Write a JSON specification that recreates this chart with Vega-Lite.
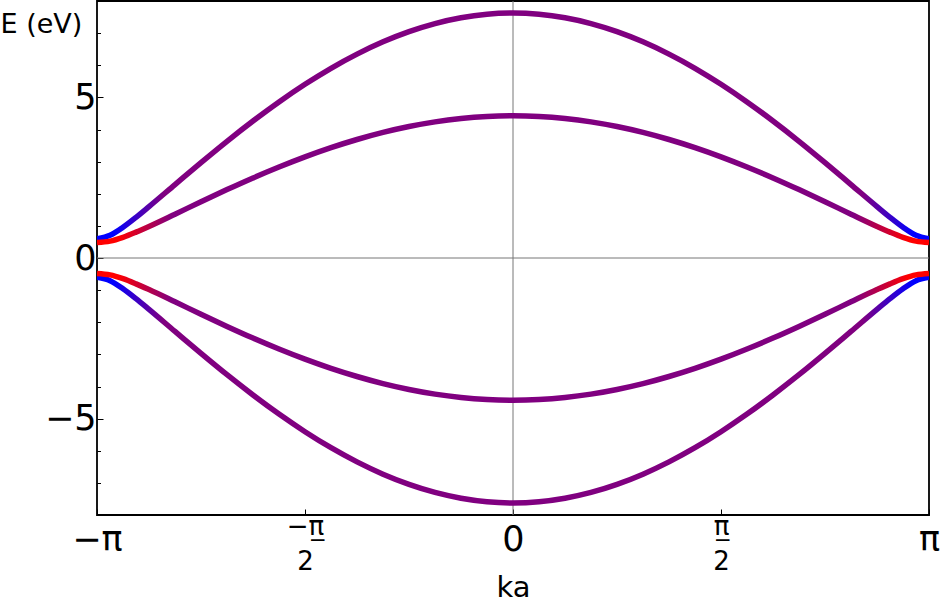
{
  "$schema": "https://vega.github.io/schema/vega-lite/v6.json",
  "width": 832,
  "height": 514,
  "autosize": {"type": "none"},
  "padding": {"left": 97, "top": 1, "right": 15, "bottom": 87},
  "background": "white",
  "config": {"view": {"stroke": "black", "strokeWidth": 1.8}, "font": "DejaVu Sans"},
  "datasets": {
    "bands": [
      {"k":-1,"b":"o+","E":0.6},{"k":-0.96875,"b":"o+","E":0.706},{"k":-0.9375,"b":"o+","E":0.957},{"k":-0.90625,"b":"o+","E":1.266},{"k":-0.875,"b":"o+","E":1.6},{"k":-0.8125,"b":"o+","E":2.286},{"k":-0.75,"b":"o+","E":2.969},{"k":-0.6875,"b":"o+","E":3.633},{"k":-0.625,"b":"o+","E":4.264},{"k":-0.5625,"b":"o+","E":4.858},{"k":-0.5,"b":"o+","E":5.407},{"k":-0.4375,"b":"o+","E":5.906},{"k":-0.375,"b":"o+","E":6.347},{"k":-0.3125,"b":"o+","E":6.73},{"k":-0.25,"b":"o+","E":7.047},{"k":-0.1875,"b":"o+","E":7.298},{"k":-0.125,"b":"o+","E":7.478},{"k":-0.0625,"b":"o+","E":7.587},{"k":0,"b":"o+","E":7.624},{"k":0.0625,"b":"o+","E":7.587},{"k":0.125,"b":"o+","E":7.478},{"k":0.1875,"b":"o+","E":7.298},{"k":0.25,"b":"o+","E":7.047},{"k":0.3125,"b":"o+","E":6.73},{"k":0.375,"b":"o+","E":6.347},{"k":0.4375,"b":"o+","E":5.906},{"k":0.5,"b":"o+","E":5.407},{"k":0.5625,"b":"o+","E":4.858},{"k":0.625,"b":"o+","E":4.264},{"k":0.6875,"b":"o+","E":3.633},{"k":0.75,"b":"o+","E":2.969},{"k":0.8125,"b":"o+","E":2.286},{"k":0.875,"b":"o+","E":1.6},{"k":0.90625,"b":"o+","E":1.266},{"k":0.9375,"b":"o+","E":0.957},{"k":0.96875,"b":"o+","E":0.706},{"k":1,"b":"o+","E":0.6},
      {"k":-1,"b":"o-","E":-0.6},{"k":-0.96875,"b":"o-","E":-0.706},{"k":-0.9375,"b":"o-","E":-0.957},{"k":-0.90625,"b":"o-","E":-1.266},{"k":-0.875,"b":"o-","E":-1.6},{"k":-0.8125,"b":"o-","E":-2.286},{"k":-0.75,"b":"o-","E":-2.969},{"k":-0.6875,"b":"o-","E":-3.633},{"k":-0.625,"b":"o-","E":-4.264},{"k":-0.5625,"b":"o-","E":-4.858},{"k":-0.5,"b":"o-","E":-5.407},{"k":-0.4375,"b":"o-","E":-5.906},{"k":-0.375,"b":"o-","E":-6.347},{"k":-0.3125,"b":"o-","E":-6.73},{"k":-0.25,"b":"o-","E":-7.047},{"k":-0.1875,"b":"o-","E":-7.298},{"k":-0.125,"b":"o-","E":-7.478},{"k":-0.0625,"b":"o-","E":-7.587},{"k":0,"b":"o-","E":-7.624},{"k":0.0625,"b":"o-","E":-7.587},{"k":0.125,"b":"o-","E":-7.478},{"k":0.1875,"b":"o-","E":-7.298},{"k":0.25,"b":"o-","E":-7.047},{"k":0.3125,"b":"o-","E":-6.73},{"k":0.375,"b":"o-","E":-6.347},{"k":0.4375,"b":"o-","E":-5.906},{"k":0.5,"b":"o-","E":-5.407},{"k":0.5625,"b":"o-","E":-4.858},{"k":0.625,"b":"o-","E":-4.264},{"k":0.6875,"b":"o-","E":-3.633},{"k":0.75,"b":"o-","E":-2.969},{"k":0.8125,"b":"o-","E":-2.286},{"k":0.875,"b":"o-","E":-1.6},{"k":0.90625,"b":"o-","E":-1.266},{"k":0.9375,"b":"o-","E":-0.957},{"k":0.96875,"b":"o-","E":-0.706},{"k":1,"b":"o-","E":-0.6},
      {"k":-1,"b":"i+","E":0.48},{"k":-0.96875,"b":"i+","E":0.526},{"k":-0.9375,"b":"i+","E":0.645},{"k":-0.90625,"b":"i+","E":0.805},{"k":-0.875,"b":"i+","E":0.983},{"k":-0.8125,"b":"i+","E":1.364},{"k":-0.75,"b":"i+","E":1.751},{"k":-0.6875,"b":"i+","E":2.129},{"k":-0.625,"b":"i+","E":2.492},{"k":-0.5625,"b":"i+","E":2.832},{"k":-0.5,"b":"i+","E":3.148},{"k":-0.4375,"b":"i+","E":3.435},{"k":-0.375,"b":"i+","E":3.689},{"k":-0.3125,"b":"i+","E":3.91},{"k":-0.25,"b":"i+","E":4.093},{"k":-0.1875,"b":"i+","E":4.238},{"k":-0.125,"b":"i+","E":4.342},{"k":-0.0625,"b":"i+","E":4.405},{"k":0,"b":"i+","E":4.426},{"k":0.0625,"b":"i+","E":4.405},{"k":0.125,"b":"i+","E":4.342},{"k":0.1875,"b":"i+","E":4.238},{"k":0.25,"b":"i+","E":4.093},{"k":0.3125,"b":"i+","E":3.91},{"k":0.375,"b":"i+","E":3.689},{"k":0.4375,"b":"i+","E":3.435},{"k":0.5,"b":"i+","E":3.148},{"k":0.5625,"b":"i+","E":2.832},{"k":0.625,"b":"i+","E":2.492},{"k":0.6875,"b":"i+","E":2.129},{"k":0.75,"b":"i+","E":1.751},{"k":0.8125,"b":"i+","E":1.364},{"k":0.875,"b":"i+","E":0.983},{"k":0.90625,"b":"i+","E":0.805},{"k":0.9375,"b":"i+","E":0.645},{"k":0.96875,"b":"i+","E":0.526},{"k":1,"b":"i+","E":0.48},
      {"k":-1,"b":"i-","E":-0.48},{"k":-0.96875,"b":"i-","E":-0.526},{"k":-0.9375,"b":"i-","E":-0.645},{"k":-0.90625,"b":"i-","E":-0.805},{"k":-0.875,"b":"i-","E":-0.983},{"k":-0.8125,"b":"i-","E":-1.364},{"k":-0.75,"b":"i-","E":-1.751},{"k":-0.6875,"b":"i-","E":-2.129},{"k":-0.625,"b":"i-","E":-2.492},{"k":-0.5625,"b":"i-","E":-2.832},{"k":-0.5,"b":"i-","E":-3.148},{"k":-0.4375,"b":"i-","E":-3.435},{"k":-0.375,"b":"i-","E":-3.689},{"k":-0.3125,"b":"i-","E":-3.91},{"k":-0.25,"b":"i-","E":-4.093},{"k":-0.1875,"b":"i-","E":-4.238},{"k":-0.125,"b":"i-","E":-4.342},{"k":-0.0625,"b":"i-","E":-4.405},{"k":0,"b":"i-","E":-4.426},{"k":0.0625,"b":"i-","E":-4.405},{"k":0.125,"b":"i-","E":-4.342},{"k":0.1875,"b":"i-","E":-4.238},{"k":0.25,"b":"i-","E":-4.093},{"k":0.3125,"b":"i-","E":-3.91},{"k":0.375,"b":"i-","E":-3.689},{"k":0.4375,"b":"i-","E":-3.435},{"k":0.5,"b":"i-","E":-3.148},{"k":0.5625,"b":"i-","E":-2.832},{"k":0.625,"b":"i-","E":-2.492},{"k":0.6875,"b":"i-","E":-2.129},{"k":0.75,"b":"i-","E":-1.751},{"k":0.8125,"b":"i-","E":-1.364},{"k":0.875,"b":"i-","E":-0.983},{"k":0.90625,"b":"i-","E":-0.805},{"k":0.9375,"b":"i-","E":-0.645},{"k":0.96875,"b":"i-","E":-0.526},{"k":1,"b":"i-","E":-0.48}
    ]
  },
  "encoding": {
    "x": {"field": "k", "type": "quantitative", "scale": {"domain": [-1, 1], "nice": false, "zero": false},
      "axis": {
        "title": "ka", "values": [-1, -0.5, 0, 0.5, 1], "domain": false, "grid": false,
        "tickColor": "black", "tickSize": -6, "tickWidth": 1,
        "labelFont": "DejaVu Sans", "labelColor": "black", "labelFlush": false, "labelOverlap": false, "labelBound": false,
        "labelFontSize": {"condition": {"test": "abs(datum.value) == 0.5", "value": 26}, "value": 35},
        "labelPadding": {"condition": {"test": "abs(datum.value) == 0.5", "value": 4}, "value": 13},
        "labelLineHeight": 35, "labelBaseline": "top",
        "labelExpr": "datum.value == -1 ? '\u2212\u03c0' : datum.value == 1 ? '\u03c0' : datum.value == 0 ? '0' : datum.value == 0.5 ? ['\u03c0\u0332', '2'] : ['\u2212\u03c0\u0332', '\u2007\u20092']",
        "titleFont": "DejaVu Sans", "titleFontSize": 29, "titleFontWeight": "normal", "titleColor": "black",
        "titleBaseline": "alphabetic", "titleY": 81, "titleX": 416
      }
    },
    "y": {"field": "E", "type": "quantitative", "scale": {"domain": [-8, 8], "nice": false, "zero": false},
      "axis": {
        "title": "E (eV)", "values": [-7, -6, -5, -4, -3, -2, -1, 0, 1, 2, 3, 4, 5, 6, 7], "domain": false, "grid": false,
        "tickColor": "black", "tickWidth": 1,
        "tickSize": {"condition": {"test": "datum.value % 5 == 0", "value": -6}, "value": -3.5},
        "labelFont": "DejaVu Sans", "labelColor": "black", "labelFontSize": 35, "labelFlush": false, "labelOverlap": false, "labelBound": false,
        "labelPadding": 7,
        "labelExpr": "datum.value % 5 == 0 ? (datum.value < 0 ? '\u2212' + abs(datum.value) : '' + datum.value) : ''",
        "titleFont": "DejaVu Sans", "titleFontSize": 27, "titleFontWeight": "normal", "titleColor": "black",
        "titleAngle": 0, "titleAlign": "left", "titleBaseline": "alphabetic", "titleX": -97, "titleY": 31
      }
    }
  },
  "layer": [
    {
      "data": {"values": [{"E": 0}]},
      "mark": {"type": "rule", "color": "#777777", "strokeWidth": 1},
      "encoding": {"x": null}
    },
    {
      "data": {"values": [{"k": 0}]},
      "mark": {"type": "rule", "color": "#777777", "strokeWidth": 1},
      "encoding": {"y": null}
    },
    {
      "data": {"name": "bands"},
      "transform": [{"filter": "datum.b == 'o+' || datum.b == 'o-'"}],
      "mark": {
        "type": "line", "interpolate": "monotone", "strokeWidth": 5.5, "clip": true,
        "stroke": {"gradient": "linear", "x1": 0, "y1": 0, "x2": 1, "y2": 0, "stops": [
          {"offset": 0, "color": "#0000ff"}, {"offset": 0.02, "color": "#0000ff"}, {"offset": 0.08, "color": "#800080"},
          {"offset": 0.92, "color": "#800080"}, {"offset": 0.98, "color": "#0000ff"}, {"offset": 1, "color": "#0000ff"}]}
      },
      "encoding": {"detail": {"field": "b"}}
    },
    {
      "data": {"name": "bands"},
      "transform": [{"filter": "datum.b == 'i+' || datum.b == 'i-'"}],
      "mark": {
        "type": "line", "interpolate": "monotone", "strokeWidth": 5.5, "clip": true,
        "stroke": {"gradient": "linear", "x1": 0, "y1": 0, "x2": 1, "y2": 0, "stops": [
          {"offset": 0, "color": "#ff0000"}, {"offset": 0.025, "color": "#ff0000"}, {"offset": 0.09, "color": "#800080"},
          {"offset": 0.91, "color": "#800080"}, {"offset": 0.975, "color": "#ff0000"}, {"offset": 1, "color": "#ff0000"}]}
      },
      "encoding": {"detail": {"field": "b"}}
    }
  ]
}
